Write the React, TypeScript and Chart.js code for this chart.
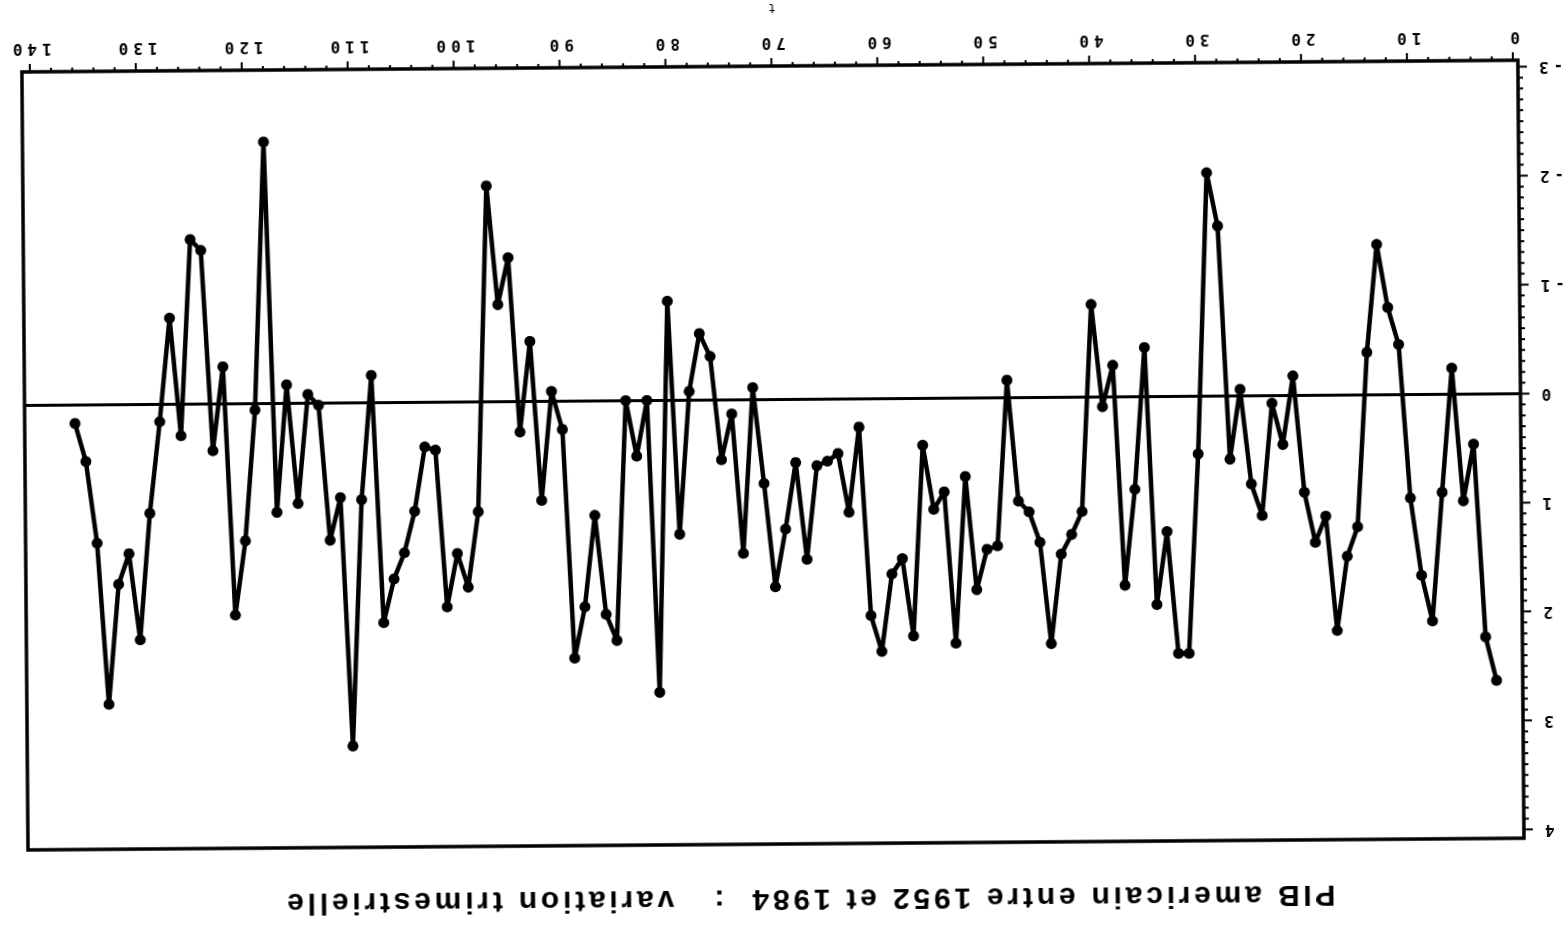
import React, { useEffect, useRef } from "react";
import { Chart, registerables } from "chart.js";

Chart.register(...registerables);

const TITLE = "PIB americain entre 1952 et 1984  :   variation trimestrielle";
const X_TITLE = "t";
const T_FIRST = 2;
const VALUES = [
  2.63, 2.23, 0.46, 0.98, -0.24, 0.90, 2.08, 1.66, 0.95, -0.46,
  -0.80, -1.38, -0.39, 1.21, 1.48, 2.16, 1.11, 1.35, 0.89, -0.18,
  0.45, 0.07, 1.10, 0.81, -0.06, 0.58, -1.56, -2.05, 0.53, 2.36,
  2.36, 1.24, 1.91, -0.45, 0.85, 1.73, -0.29, 0.09, -0.85, 1.05,
  1.26, 1.44, 2.26, 1.33, 1.05, 0.95, -0.16, 1.36, 1.39, 1.76,
  0.72, 2.25, 0.86, 1.02, 0.43, 2.18, 1.47, 1.61, 2.32, 1.99,
  0.26, 1.04, 0.50, 0.57, 0.61, 1.47, 0.58, 1.19, 1.72, 0.77,
  -0.11, 1.41, 0.13, 0.55, -0.40, -0.61, -0.08, 1.23, -0.91, 2.68,
  0.00, 0.51, 0.00, 2.20, 1.96, 1.05, 1.89, 2.36, 0.26, -0.09,
  0.91, -0.55, 0.28, -1.32, -0.89, -1.98, 1.01, 1.70, 1.39, 1.88,
  0.44, 0.41, 1.00, 1.38, 1.62, 2.02, -0.25, 0.89, 3.15, 0.87,
  1.26, 0.02, -0.08, 0.92, -0.17, 1.00, -2.40, 0.06, 1.26, 1.94,
  -0.34, 0.43, -1.41, -1.51, 0.29, -0.79, 0.16, 1.00, 2.16, 1.37,
  1.65, 2.75, 1.27, 0.52, 0.17,
];
const X_TICKS = [0, 10, 20, 30, 40, 50, 60, 70, 80, 90, 100, 110, 120, 130, 140];
const Y_TICKS = [-3, -2, -1, 0, 1, 2, 3, 4];
const X_MINOR_STEP = 2;
const Y_MINOR_STEP = 0.1;

const TICK_FONT = { family: "'DejaVu Sans Mono', monospace", size: 16, weight: "bold" as const };

const framePlugin = {
  id: "frameTicks",
  beforeDraw(chart: any) {
    (chart.ctx as any).letterSpacing = "5px";
  },
  beforeDatasetsDraw(chart: any) {
    const { ctx, chartArea } = chart;
    const ys = chart.scales.y;
    const y0 = ys.getPixelForValue(0);
    ctx.save();
    ctx.strokeStyle = "#000";
    ctx.lineWidth = 3;
    ctx.beginPath();
    ctx.moveTo(chartArea.left, y0);
    ctx.lineTo(chartArea.right, y0);
    ctx.stroke();
    ctx.restore();
  },
  afterDraw(chart: any) {
    const { ctx, chartArea } = chart;
    const { left, right, top, bottom } = chartArea;
    const xs = chart.scales.x;
    const ys = chart.scales.y;
    ctx.save();
    ctx.strokeStyle = "#000";
    ctx.lineWidth = 2;
    ctx.beginPath();
    const yMin = Y_TICKS[0];
    const yMax = Y_TICKS[Y_TICKS.length - 1];
    const ny = Math.round((yMax - yMin) / Y_MINOR_STEP);
    for (let k = 0; k <= ny; k++) {
      const v = yMin + k * Y_MINOR_STEP;
      const py = ys.getPixelForValue(v);
      const major = k % 10 === 0;
      const len = major ? 9 : 5;
      ctx.moveTo(left - len, py);
      ctx.lineTo(left, py);
    }
    const xMin = X_TICKS[0];
    const xMax = X_TICKS[X_TICKS.length - 1];
    const nx = Math.round((xMax - xMin) / X_MINOR_STEP);
    for (let k = 0; k <= nx; k++) {
      const t = xMin + k * X_MINOR_STEP;
      const px = xs.getPixelForValue(t);
      const major = k % 5 === 0;
      const len = major ? 8 : 4;
      ctx.moveTo(px, bottom);
      ctx.lineTo(px, bottom + len);
    }
    ctx.stroke();
    ctx.lineWidth = 3.5;
    ctx.strokeRect(left, top, right - left, bottom - top);
    ctx.restore();
  },
};

export default function App() {
  const ref = useRef<HTMLCanvasElement | null>(null);

  useEffect(() => {
    document.body.style.margin = "0";
    document.body.style.overflow = "hidden";
    const canvas = ref.current;
    if (!canvas) return;
    const points = VALUES.map((v, i) => ({ x: T_FIRST + i, y: v }));
    const chart = new Chart(canvas, {
      type: "line",
      data: {
        datasets: [
          {
            data: points,
            borderColor: "#000",
            backgroundColor: "#000",
            borderWidth: 4.5,
            borderJoinStyle: "round",
            borderCapStyle: "round",
            pointRadius: 5.5,
            pointBackgroundColor: "#000",
            pointBorderColor: "#000",
            pointBorderWidth: 0,
            tension: 0,
            fill: false,
          },
        ],
      },
      options: {
        responsive: false,
        animation: false,
        devicePixelRatio: 1,
        layout: { padding: { left: 0, right: 25, top: 82, bottom: 0 } },
        plugins: {
          legend: { display: false },
          tooltip: { enabled: false },
          title: { display: false },
        },
        scales: {
          x: {
            type: "linear",
            position: "bottom",
            min: -0.47,
            max: 140.75,
            afterBuildTicks: (s: any) => {
              s.ticks = X_TICKS.map((v) => ({ value: v }));
            },
            afterFit: (s: any) => {
              s.height = 66;
            },
            grid: { display: false, drawTicks: false },
            border: { display: false },
            ticks: {
              color: "#000",
              font: TICK_FONT,
              padding: 14,
              maxRotation: 0,
              autoSkip: false,
              callback: (v: any) => String(v),
            },
            title: {
              display: true,
              text: X_TITLE,
              color: "#000",
              font: { family: "'DejaVu Sans Mono', monospace", size: 12 },
              padding: { top: 0, bottom: 0 },
            },
          },
          y: {
            type: "linear",
            position: "left",
            min: -3.06,
            max: 4.08,
            afterBuildTicks: (s: any) => {
              s.ticks = Y_TICKS.map((v) => ({ value: v }));
            },
            afterFit: (s: any) => {
              s.width = 47;
            },
            grid: { display: false, drawTicks: false },
            border: { display: false },
            ticks: {
              color: "#000",
              font: TICK_FONT,
              padding: 16,
              autoSkip: false,
              callback: (v: any) => String(v),
            },
          },
        },
      },
      plugins: [framePlugin],
    } as any);
    return () => chart.destroy();
  }, []);

  return (
    <div
      style={{
        position: "fixed",
        left: 0,
        top: 0,
        width: 1568,
        height: 926,
        background: "#fff",
        transform: "rotate(179.55deg)",
        transformOrigin: "50% 50%",
      }}
    >
      <div
        style={{
          position: "absolute",
          top: 11,
          left: 0,
          width: 1524,
          textAlign: "center",
          fontFamily: "'Liberation Sans', Arial, sans-serif",
          fontWeight: "bold",
          fontSize: 30,
          lineHeight: "30px",
          letterSpacing: "3.8px",
          whiteSpace: "pre",
          color: "#000",
        }}
      >
        {TITLE}
      </div>
      <canvas
        ref={ref}
        width={1568}
        height={926}
        style={{ position: "absolute", left: 0, top: 0, width: 1568, height: 926 }}
      />
    </div>
  );
}
